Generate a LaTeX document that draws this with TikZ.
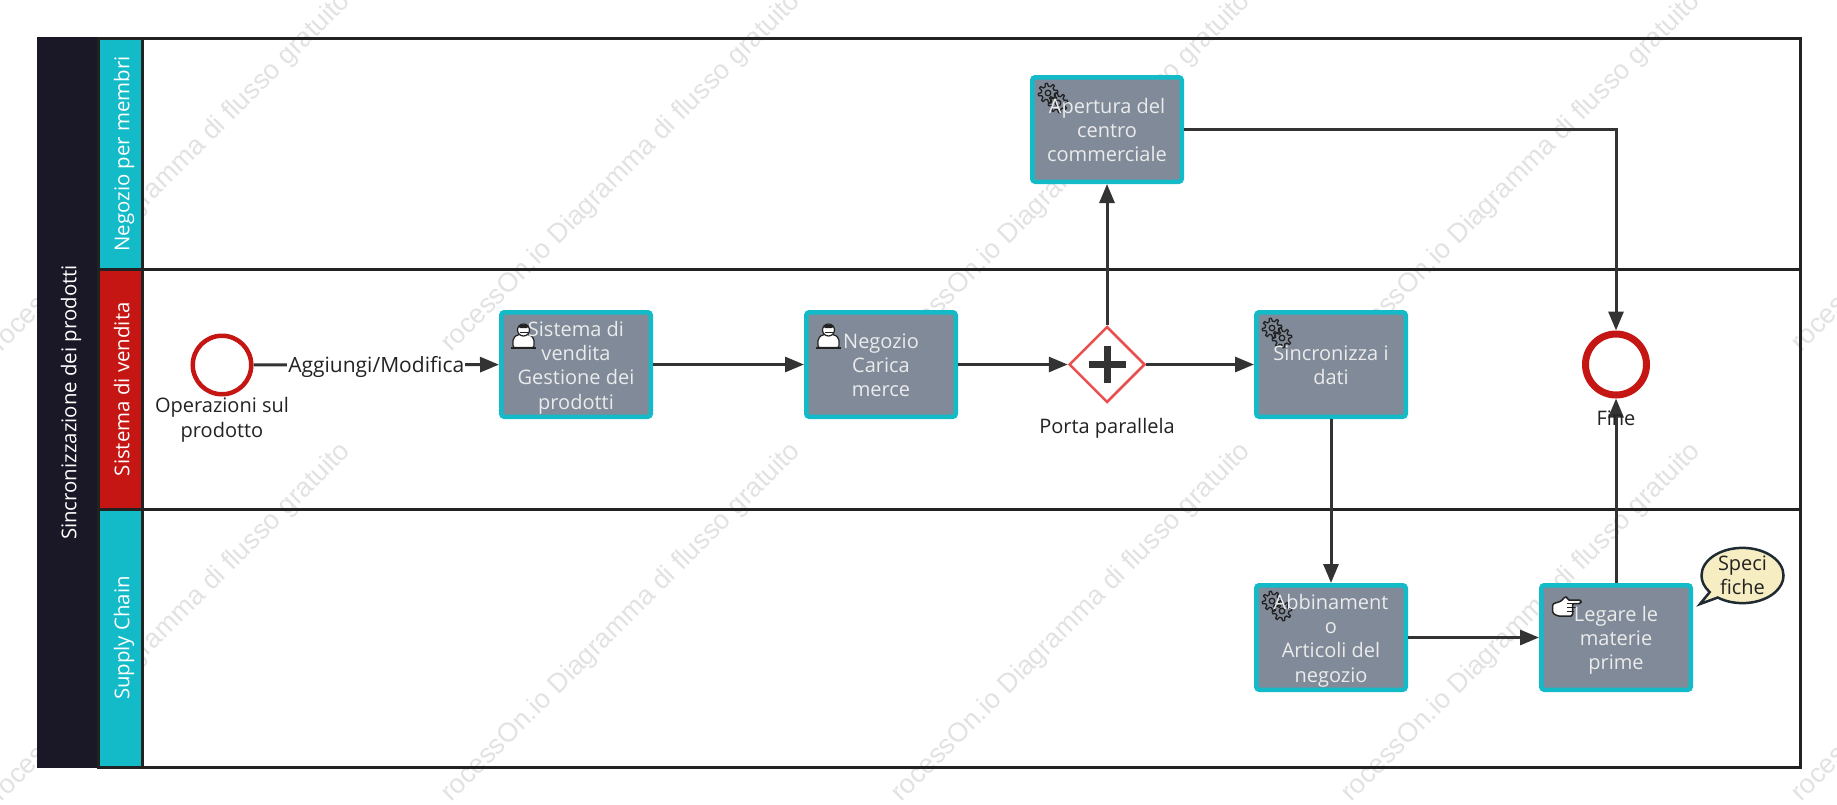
\documentclass[tikz,border=0pt]{standalone}
\usepackage{fontspec}
\setmainfont{Open Sans}
\newfontfamily\markfont{Liberation Sans}
\usetikzlibrary{arrows.meta, positioning, shapes.geometric, shapes.callouts}
\definecolor{laneteal}{HTML}{13BBC8}
\definecolor{lanered}{HTML}{C51614}
\definecolor{titledark}{HTML}{1A1726}
\definecolor{taskgrey}{HTML}{808A98}
\definecolor{lineink}{HTML}{333333}
\definecolor{frameink}{HTML}{222222}
\definecolor{noteink}{HTML}{1F2A33}
\definecolor{noteyellow}{HTML}{F6EEC2}
\definecolor{markgrey}{HTML}{E2E2E2}
\definecolor{gatered}{HTML}{E8504F}

\begin{document}
\begin{tikzpicture}[
    x=1pt, y=-1pt,
    % Node styles
    lanehead/.style={
        draw=frameink, line width=3pt, rotate=90, text=white, inner sep=0pt,
        text height=19.5pt, text depth=1.7pt,
        font=\fontsize{20.4}{24}\selectfont,
      },
    task/.style={
        draw=laneteal, fill=taskgrey, line width=4.5pt, rounded corners=3pt,
        minimum width=149.5pt, minimum height=104.5pt, inner sep=0pt,
        text depth=5pt,
        align=center, text=white!92!black, font=\fontsize{20}{24.2}\selectfont,
      },
    % The box of the text is set by its number of lines, so that all of them sit alike
    tasklines/.style={
        text height={(#1-1)*24.2pt+21.4pt},
      },
    % Icons go in as path pictures: the text of the task stays on top of them
    gear task/.style={
        task, path picture={
            \pic at ([xshift=15.75pt,yshift=-15.75pt] path picture bounding box.north west) {gearicon};
            \pic at ([xshift=25.75pt,yshift=-25.75pt] path picture bounding box.north west) {gearicon};
          },
      },
    worker task/.style={
        task, path picture={
            \pic at ([xshift=22.25pt,yshift=-23.25pt] path picture bounding box.north west) {workericon};
          },
      },
    hand task/.style={
        task, path picture={
            \pic at ([xshift=25.25pt,yshift=-21.75pt] path picture bounding box.north west) {handicon};
          },
      },
    event/.style={
        circle, draw=lanered, fill=white, inner sep=0pt,
      },
    caption/.style={
        align=center, text=frameink, inner sep=0pt,
        font=\fontsize{20}{24.2}\selectfont,
      },
    watermark/.style={
        rotate=45, anchor=base west, text=markgrey, inner sep=0pt,
        font=\markfont\fontsize{27}{27}\selectfont,
      },
    % Edge/arrow style
    flow/.style={
        draw=lineink, line width=3pt,
        -{Triangle[length=19pt,width=15pt]},
      },
    % Small icons in the corner of the tasks
    gearicon/.pic={
        \draw[frameink, line width=1.3pt, line join=round, rounded corners=0pt] (0,0) circle (2.8)
        (22:6.8) foreach \a in {0,45,...,315} {
            -- (\a+22:6.8) -- (\a+29:9.8) -- (\a+41:9.8) -- (\a+48:6.8)
          } -- cycle;
      },
    workericon/.pic={
        \draw[frameink, fill=white, line width=1.2pt, rounded corners=2pt]
        (-10.5,12) -- (-10.5,3) -- (-6,-1) -- (6,-1) -- (10.5,3) -- (10.5,12) -- cycle;
        \draw[frameink, line width=1.8pt] (-12.5,12.5) -- (12.5,12.5);
        \draw[frameink, fill=white, line width=1.2pt] (0,-5.5) circle (6);
        \fill[frameink] (-6,-7.5) -- (6,-7.5) -- (4,-11) -- (-4,-11) -- cycle;
        \draw[frameink, line width=1.5pt] (-4,-3) -- (4,-3);
      },
    handicon/.pic={
        \draw[frameink, fill=white, line width=1.5pt, rounded corners=1.5pt]
        (-14,-3) -- (-5,-6) -- (-2,-10) -- (1,-10) -- (1,-7) -- (14.5,-7) -- (14.5,-3.5)
        -- (6,-3.5) -- (6,9) -- (-9,9) -- (-14,6) -- cycle;
        \draw[frameink, line width=1.2pt] (0,-3.5) -- (6,-3.5) (0,0.5) -- (9,0.5) (0,4.5) -- (7,4.5);
      },
  ]
  \useasboundingbox (0,0) rectangle (1837,804);

  % --- Watermark, under everything else ---
  \foreach \wx in {1,451,901,1351,1801} {
      \foreach \wy in {353,803} {
          \node[watermark] (mark\wx-\wy) at (\wx,\wy) {rocessOn.io Diagramma di flusso gratuito};
        }
    }

  % --- Pool and lanes ---
  \draw[frameink, line width=3pt] (142,38) rectangle (1800,767);
  \draw[frameink, line width=3pt] (142,269.5) -- (1800,269.5);
  \draw[frameink, line width=3pt] (142,509) -- (1800,509);

  \node[lanehead, draw=titledark, fill=titledark, minimum width=728pt, minimum height=58pt] (pool) at (67.5,402.5) {Sincronizzazione dei prodotti};
  \node[lanehead, fill=laneteal, minimum width=231.5pt, minimum height=44pt] (laneshop) at (120.5,153.75) {Negozio per membri};
  \node[lanehead, fill=lanered, minimum width=239.5pt, minimum height=44pt] (lanesale) at (120.5,389.25) {Sistema di vendita};
  \node[lanehead, fill=laneteal, minimum width=258pt, minimum height=44pt] (lanechain) at (120.5,638) {Supply Chain};

  % --- Events and gateway ---
  \node[event, line width=4.5pt, minimum size=58.5pt] (startev) at (222,365) {};
  \node[event, line width=7pt, minimum size=61pt] (endev) at (1616,364.5) {};
  \node[diamond, draw=gatered, fill=white, line width=2.5pt, aspect=1, inner sep=0pt,
    minimum width=76pt, minimum height=76pt] (gate) at (1107,364.5) {};
  \draw[lineink, line width=7pt] ([xshift=-18.5pt] gate.center) -- ([xshift=18.5pt] gate.center)
  ([yshift=-18.5pt] gate.center) -- ([yshift=18.5pt] gate.center);

  % --- Tasks ---
  \node[worker task, tasklines=4] (tasksystem) at (576,364.5) {Sistema di\\vendita\\Gestione dei\\prodotti};
  \node[worker task, tasklines=3] (taskgoods) at (881,364.5) {Negozio\\Carica\\merce};
  \node[gear task, tasklines=3] (taskopen) at (1107,129.5) {Apertura del\\centro\\commerciale};
  \node[gear task, tasklines=2] (tasksync) at (1331,364.5) {Sincronizza i\\dati};
  \node[gear task, tasklines=4] (taskmatch) at (1331,637.5) {Abbinament\\o\\Articoli del\\negozio};
  \node[hand task, tasklines=3] (taskbind) at (1616,637.5) {Legare le\\materie\\prime};

  % --- Connectors ---
  \draw[flow] (startev) -- node[fill=white, inner sep=1pt, text=frameink, text height=17.5pt, text depth=2pt, font=\fontsize{21}{24}\selectfont] (addlabel) {Aggiungi/Modifica} (tasksystem);
  \draw[flow] (tasksystem) -- (taskgoods);
  \draw[flow] (taskgoods) -- (gate);
  \draw[flow] (gate) -- (tasksync);
  \draw[flow] (gate) -- (taskopen);
  \draw[flow] (taskopen) -| (endev);
  \draw[flow] (tasksync) -- (taskmatch);
  \draw[flow] (taskmatch) -- (taskbind);
  \draw[flow] (taskbind) -- (endev);

  % --- Event and gateway labels ---
  \node[caption, below=1pt of startev] (startlabel) {Operazioni sul\\prodotto};
  \node[caption, below=12.5pt of endev] (endlabel) {Fine};
  \node[caption, below=14pt of gate] (gatelabel) {Porta parallela};

  % --- Note on the last task ---
  \node[ellipse callout, draw=noteink, fill=noteyellow, line width=2.5pt, inner sep=0pt,
    minimum width=82pt, minimum height=54pt, align=center, text=frameink,
    callout absolute pointer={(1700,604)}, callout pointer arc=16,
    font=\fontsize{20}{24.2}\selectfont] (note) at (1742.5,575.5) {Speci\\fiche};
\end{tikzpicture}
\end{document}
